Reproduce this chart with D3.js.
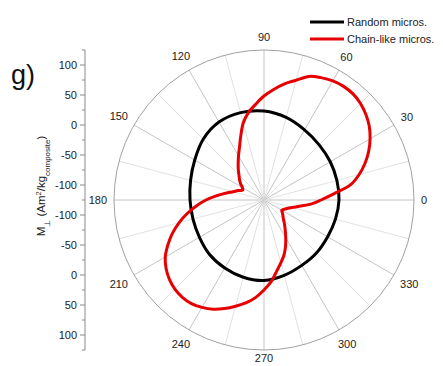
<!DOCTYPE html>
<html><head><meta charset="utf-8">
<script src="https://cdn.jsdelivr.net/npm/d3@7/dist/d3.min.js"></script>
<style>body{margin:0;background:#fff}svg{display:block}text{font-family:"Liberation Sans",Arial,sans-serif}</style>
</head><body>
<svg id="c" width="443" height="366"></svg>
<script>
// ---- data ----
const blackAngles = [0,15,30,45,60,75,90,105,120,135,150,165,180,195,210,225,240,255,270,285,300,315,330,345];
const blackValues = [0,0.8,2.5,5,10,17.5,23.3,25.8,25,18.3,8.3,1.7,-1.7,-2.5,-0.8,3.3,5.8,8.3,9.2,5,0.8,-0.8,-2.5,-1.7];
const redAngles = [0,5,10,15,20,25,30,35,40,45,50,55,60,65,70,75,80,85,90,95,100,105,110,115,120,125,130,135,140,145,150,155,160,165,170,175,180,185,190,195,200,205,210,215,220,225,230,235,240,245,250,255,260,265,270,275,280,285,290,295,300,305,310,315,320,325,330,335,340,345,350,355];
const redValues = [-30,-8.3,21.7,39.2,54.2,67.5,79.2,89.2,96.7,102.5,105.8,106.2,104.2,100,94.2,81.7,71.7,60,48.3,35,23.3,8.3,-11.7,-28.3,-40,-50,-58.3,-66,-71.7,-77.2,-83.3,-85.8,-79.2,-71.7,-60,-45,-28.3,-11.7,5,21.7,37.5,51.7,65,74.2,80.8,85,86.7,85.8,81.7,75.8,67.5,58.3,49.2,38.3,25,11.7,-4.2,-16.7,-27.5,-40,-52.5,-63.3,-71.7,-79,-83.7,-87.5,-90.8,-88.3,-83.8,-76.7,-65,-46.7];
const angleLabels = [0,30,60,90,120,150,180,210,240,270,300,330];
const upperTicks = [100,50,0,-50,-100];
const lowerTicks = [-100,-50,0,50,100];
const minorTicks = [125,75,25,-25,-75,-125];
const seriesNames = ["Random micros.","Chain-like micros."];
const seriesColors = ["#000000","#e60000"];

// ---- layout ----
const svg = d3.select("#c");
const cx = 264, cy = 200, R = 150;
const r = d3.scaleLinear().domain([-125,125]).range([0,R]);
const toRad = a => a*Math.PI/180;

const g = svg.append("g").attr("transform",`translate(${cx},${cy})`);
d3.range(0,360,15).forEach(a=>{
  const major = a%30===0;
  g.append("line").attr("x1",0).attr("y1",0)
    .attr("x2",R*Math.cos(toRad(a))).attr("y2",-R*Math.sin(toRad(a)))
    .attr("stroke",major?"#c4c4c4":"#e2e2e2").attr("stroke-width",1);
});
g.append("circle").attr("r",R).attr("fill","none").attr("stroke","#a0a0a0").attr("stroke-width",1);

angleLabels.forEach(a=>{
  const t = String(a);
  const w = t.length*6.1, h = 11;
  const c = Math.cos(toRad(a)), s = Math.sin(toRad(a));
  let d = R + 7 + Math.abs(c)*w/2 + Math.abs(s)*h/2;
  if (a===270) d -= 4;
  g.append("text").attr("x",d*c).attr("y",-d*s).attr("dy","0.36em")
    .attr("text-anchor","middle").attr("font-size",11).attr("fill","#222").text(t);
});

const line = d3.lineRadial()
  .angle(d=>toRad(90-d[0])).radius(d=>r(d[1]))
  .curve(d3.curveCatmullRomClosed.alpha(0.5));
const blackData = blackAngles.map((a,i)=>[a,blackValues[i]]);
const redData = redAngles.map((a,i)=>[a,redValues[i]]);
g.append("path").attr("d",line(blackData)).attr("fill","none").attr("stroke",seriesColors[0]).attr("stroke-width",3);
g.append("path").attr("d",line(redData)).attr("fill","none").attr("stroke",seriesColors[1]).attr("stroke-width",3);

// left radial axis (mirrored)
const ax = 85;
const yUp = d3.scaleLinear().domain([-125,125]).range([cy, cy-R]);
const yDn = d3.scaleLinear().domain([-125,125]).range([cy, cy+R]);
const axG = svg.append("g");
axG.append("line").attr("x1",ax).attr("x2",ax).attr("y1",cy-R).attr("y2",cy+R).attr("stroke","#8a8a8a");
function ticks(scale, vals, len, lab){
  vals.forEach(v=>{
    const y = scale(v);
    axG.append("line").attr("x1",ax-len).attr("x2",ax).attr("y1",y).attr("y2",y).attr("stroke","#8a8a8a");
    if(lab) axG.append("text").attr("x",ax-8).attr("y",y).attr("dy","0.36em").attr("text-anchor","end")
      .attr("font-size",11).attr("fill","#222").text(v);
  });
}
ticks(yUp, upperTicks, 5, true);
ticks(yDn, lowerTicks, 5, true);
ticks(yUp, minorTicks, 3, false);
ticks(yDn, minorTicks.filter(v=>v!==-125), 3, false);

// axis title
const tt = svg.append("text").attr("transform",`translate(45,186) rotate(-90)`).attr("text-anchor","middle")
  .attr("font-size",11.5).attr("fill","#222");
tt.append("tspan").text("M");
tt.append("tspan").attr("baseline-shift","sub").attr("font-size",8).text("⊥");
tt.append("tspan").text(" (Am");
tt.append("tspan").attr("baseline-shift","super").attr("font-size",7.5).text("2");
tt.append("tspan").text("/kg");
tt.append("tspan").attr("baseline-shift","sub").attr("font-size",8).text("composite");
tt.append("tspan").text(")");

svg.append("text").attr("x",11).attr("y",84).attr("font-size",27).attr("fill","#111").text("g)");

seriesNames.forEach((n,i)=>{
  const y = 22 + i*17;
  svg.append("line").attr("x1",310).attr("x2",344).attr("y1",y).attr("y2",y).attr("stroke",seriesColors[i]).attr("stroke-width",3);
  svg.append("text").attr("x",347).attr("y",y).attr("dy","0.36em").attr("font-size",11).attr("fill","#222").text(n);
});
</script>
</body></html>
